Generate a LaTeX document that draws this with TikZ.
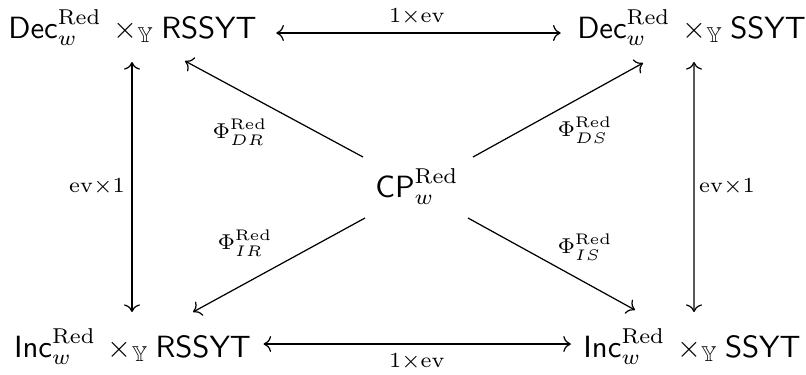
\documentclass[tikz,border=0pt]{standalone}
\usepackage{amssymb}
\usetikzlibrary{arrows.meta,calc}
\begin{document}
\begin{tikzpicture}[x=0.3257pt,y=-0.3257pt,
  obj/.style={inner sep=0pt, anchor=base},
  lab/.style={inner sep=0pt},
  both/.style={{Computer Modern Rightarrow}-{Computer Modern Rightarrow}, line width=0.4pt},
  one/.style={-{Computer Modern Rightarrow}, line width=0.4pt}]
\useasboundingbox (0,0) rectangle (806,374);
% objects
\node[obj] (tl) at (132.5,38) {$\mathsf{Dec}^{\mathrm{Red}}_w \,\times_{\mathbb{Y}} \mathsf{RSSYT}$};
\node[obj] (tr) at (691.5,38) {$\mathsf{Dec}^{\mathrm{Red}}_w \,\times_{\mathbb{Y}} \mathsf{SSYT}$};
\node[obj] (bl) at (132.5,357) {$\mathsf{Inc}^{\mathrm{Red}}_w \,\times_{\mathbb{Y}} \mathsf{RSSYT}$};
\node[obj] (br) at (692,357) {$\mathsf{Inc}^{\mathrm{Red}}_w \,\times_{\mathbb{Y}} \mathsf{SSYT}$};
\node[obj] (cp) at (417,197) {$\mathsf{CP}^{\mathrm{Red}}_w$};
% labels
\node[lab] (lt) at (417,17) {$\scriptstyle 1\times\mathrm{ev}$};
\node[lab] (lb) at (417,362) {$\scriptstyle 1\times\mathrm{ev}$};
\node[lab] (ll) at (97,187) {$\scriptstyle \mathrm{ev}\times 1$};
\node[lab] (lr) at (727,187) {$\scriptstyle \mathrm{ev}\times 1$};
\node[lab] (ldr) at (240,132) {$\scriptstyle \Phi^{\mathrm{Red}}_{DR}$};
\node[lab] (lds) at (585,130) {$\scriptstyle \Phi^{\mathrm{Red}}_{DS}$};
\node[lab] (lir) at (245,243) {$\scriptstyle \Phi^{\mathrm{Red}}_{IR}$};
\node[lab] (lis) at (585,247) {$\scriptstyle \Phi^{\mathrm{Red}}_{IS}$};
% arrows
\draw[both] ($(tl.base east)+(19,-5)$) -- ($(tr.base west)+(-16,-5)$);
\draw[both] ($(bl.base east)+(12,-13)$) -- ($(br.base west)+(-12,-13)$);
\draw[both] ($(tl.base)+(-0.5,24)$) -- ($(bl.base)+(-0.5,-45)$);
\draw[both] ($(tr.base)+(2.5,24)$) -- ($(br.base)+(2,-45)$);
\draw[one] ($(cp.base)+(-54,-40)$) -- ($(tl.base)+(52.5,23)$);
\draw[one] ($(cp.base)+(56,-40)$) -- ($(tr.base)+(-48.5,25)$);
\draw[one] ($(cp.base)+(-52,21)$) -- ($(bl.base)+(60.5,-45)$);
\draw[one] ($(cp.base)+(51,21)$) -- ($(br.base)+(-57,-47)$);
\end{tikzpicture}
\end{document}
